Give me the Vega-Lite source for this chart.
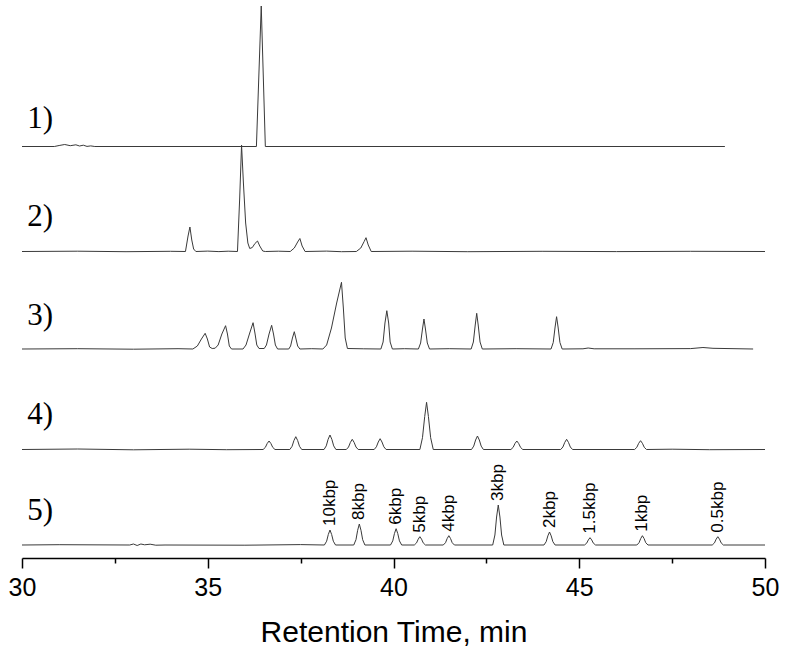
{
  "$schema": "https://vega.github.io/schema/vega-lite/v6.json",
  "width": 743,
  "height": 558,
  "autosize": "none",
  "padding": {"left": 22, "top": 0, "right": 25, "bottom": 102},
  "background": "white",
  "config": {"view": {"stroke": null}},
  "datasets": {
    "traces": [
      {"s":1,"t":30,"v":411.5},{"s":1,"t":30.87,"v":411.5},{"s":1,"t":31.0,"v":412.5},{"s":1,"t":31.15,"v":413.5},{"s":1,"t":31.3,"v":412.3},{"s":1,"t":31.45,"v":413.2},{"s":1,"t":31.55,"v":412},{"s":1,"t":31.65,"v":412.8},{"s":1,"t":31.75,"v":411.6},{"s":1,"t":31.85,"v":412.1},{"s":1,"t":31.96,"v":411.5},{"s":1,"t":36.31,"v":411.5},{"s":1,"t":36.44,"v":552},{"s":1,"t":36.55,"v":411.5},{"s":1,"t":48.92,"v":411.5},

      {"s":2,"t":30,"v":306.5},{"s":2,"t":31.5,"v":306.8},{"s":2,"t":32.8,"v":306.3},{"s":2,"t":34.0,"v":306.7},{"s":2,"t":34.40,"v":306.5},{"s":2,"t":34.47,"v":322},{"s":2,"t":34.52,"v":331},{"s":2,"t":34.57,"v":318},{"s":2,"t":34.62,"v":309},{"s":2,"t":34.68,"v":306.5},{"s":2,"t":35.0,"v":306.9},{"s":2,"t":35.3,"v":306.4},{"s":2,"t":35.55,"v":306.8},{"s":2,"t":35.80,"v":306.5},{"s":2,"t":35.86,"v":360},{"s":2,"t":35.91,"v":413},{"s":2,"t":35.96,"v":375},{"s":2,"t":36.02,"v":335},{"s":2,"t":36.08,"v":315},{"s":2,"t":36.13,"v":309.5},{"s":2,"t":36.2,"v":310.5},{"s":2,"t":36.27,"v":314.5},{"s":2,"t":36.34,"v":317},{"s":2,"t":36.4,"v":312},{"s":2,"t":36.48,"v":307},{"s":2,"t":36.55,"v":306.5},{"s":2,"t":36.9,"v":306.8},{"s":2,"t":37.22,"v":306.5},{"s":2,"t":37.33,"v":310},{"s":2,"t":37.42,"v":316},{"s":2,"t":37.48,"v":319.5},{"s":2,"t":37.54,"v":312},{"s":2,"t":37.62,"v":306.5},{"s":2,"t":38.2,"v":306.9},{"s":2,"t":38.6,"v":306.3},{"s":2,"t":39.0,"v":306.5},{"s":2,"t":39.12,"v":310},{"s":2,"t":39.21,"v":316.5},{"s":2,"t":39.26,"v":320.3},{"s":2,"t":39.32,"v":313},{"s":2,"t":39.4,"v":306.5},{"s":2,"t":40.5,"v":306.8},{"s":2,"t":42.0,"v":306.3},{"s":2,"t":44.0,"v":306.7},{"s":2,"t":46.0,"v":306.4},{"s":2,"t":48.0,"v":306.7},{"s":2,"t":50,"v":306.5},

      {"s":3,"t":30,"v":209},{"s":3,"t":31.5,"v":209.3},{"s":3,"t":33.0,"v":208.8},{"s":3,"t":34.2,"v":209.3},{"s":3,"t":34.6,"v":209},{"s":3,"t":34.72,"v":212},{"s":3,"t":34.83,"v":219},{"s":3,"t":34.93,"v":224.7},{"s":3,"t":34.99,"v":219},{"s":3,"t":35.05,"v":211},{"s":3,"t":35.12,"v":209.5},{"s":3,"t":35.2,"v":209.8},{"s":3,"t":35.28,"v":213},{"s":3,"t":35.38,"v":224},{"s":3,"t":35.48,"v":232.3},{"s":3,"t":35.53,"v":224},{"s":3,"t":35.58,"v":212},{"s":3,"t":35.64,"v":209},{"s":3,"t":35.95,"v":209},{"s":3,"t":36.03,"v":213},{"s":3,"t":36.13,"v":225},{"s":3,"t":36.22,"v":235.3},{"s":3,"t":36.27,"v":225},{"s":3,"t":36.32,"v":213},{"s":3,"t":36.38,"v":209.5},{"s":3,"t":36.52,"v":209.5},{"s":3,"t":36.58,"v":213},{"s":3,"t":36.65,"v":224},{"s":3,"t":36.72,"v":232.7},{"s":3,"t":36.77,"v":224},{"s":3,"t":36.82,"v":213},{"s":3,"t":36.88,"v":209},{"s":3,"t":37.18,"v":209},{"s":3,"t":37.23,"v":212},{"s":3,"t":37.28,"v":220},{"s":3,"t":37.33,"v":226.3},{"s":3,"t":37.37,"v":220},{"s":3,"t":37.42,"v":212},{"s":3,"t":37.48,"v":209},{"s":3,"t":37.8,"v":209.3},{"s":3,"t":38.1,"v":209},{"s":3,"t":38.2,"v":213},{"s":3,"t":38.33,"v":230},{"s":3,"t":38.47,"v":255},{"s":3,"t":38.6,"v":275.7},{"s":3,"t":38.65,"v":250},{"s":3,"t":38.7,"v":220},{"s":3,"t":38.76,"v":209.5},{"s":3,"t":39.2,"v":209.2},{"s":3,"t":39.66,"v":209},{"s":3,"t":39.72,"v":216},{"s":3,"t":39.77,"v":235},{"s":3,"t":39.82,"v":247.3},{"s":3,"t":39.87,"v":235},{"s":3,"t":39.91,"v":216},{"s":3,"t":39.97,"v":209},{"s":3,"t":40.3,"v":209.3},{"s":3,"t":40.67,"v":209},{"s":3,"t":40.73,"v":215},{"s":3,"t":40.78,"v":229},{"s":3,"t":40.82,"v":239},{"s":3,"t":40.86,"v":229},{"s":3,"t":40.91,"v":215},{"s":3,"t":40.97,"v":209},{"s":3,"t":41.5,"v":209.3},{"s":3,"t":42.09,"v":209},{"s":3,"t":42.15,"v":216},{"s":3,"t":42.2,"v":233},{"s":3,"t":42.24,"v":244.7},{"s":3,"t":42.28,"v":233},{"s":3,"t":42.33,"v":216},{"s":3,"t":42.39,"v":209},{"s":3,"t":43.3,"v":209.3},{"s":3,"t":44.24,"v":209},{"s":3,"t":44.3,"v":215.5},{"s":3,"t":44.35,"v":231},{"s":3,"t":44.39,"v":241.3},{"s":3,"t":44.43,"v":231},{"s":3,"t":44.48,"v":215.5},{"s":3,"t":44.54,"v":209},{"s":3,"t":45.1,"v":209.2},{"s":3,"t":45.24,"v":210},{"s":3,"t":45.4,"v":209.2},{"s":3,"t":46.5,"v":209.2},{"s":3,"t":48.0,"v":209.4},{"s":3,"t":48.33,"v":210.5},{"s":3,"t":48.6,"v":209.7},{"s":3,"t":49.68,"v":209},

      {"s":4,"t":30,"v":108.5},{"s":4,"t":31.5,"v":109},{"s":4,"t":33.0,"v":108.2},{"s":4,"t":34.5,"v":108.8},{"s":4,"t":35.5,"v":108.3},{"s":4,"t":36.49,"v":108.5},{"s":4,"t":36.55,"v":110.6},{"s":4,"t":36.60,"v":114.5},{"s":4,"t":36.65,"v":117},{"s":4,"t":36.70,"v":114.5},{"s":4,"t":36.75,"v":110.6},{"s":4,"t":36.81,"v":108.5},{"s":4,"t":37.21,"v":108.5},{"s":4,"t":37.27,"v":111.7},{"s":4,"t":37.32,"v":117.5},{"s":4,"t":37.37,"v":121.3},{"s":4,"t":37.42,"v":117.5},{"s":4,"t":37.47,"v":111.7},{"s":4,"t":37.53,"v":108.5},{"s":4,"t":38.13,"v":108.5},{"s":4,"t":38.19,"v":112.1},{"s":4,"t":38.24,"v":118.7},{"s":4,"t":38.29,"v":123},{"s":4,"t":38.34,"v":118.7},{"s":4,"t":38.39,"v":112.1},{"s":4,"t":38.45,"v":108.5},{"s":4,"t":38.73,"v":108.5},{"s":4,"t":38.79,"v":111},{"s":4,"t":38.84,"v":115.6},{"s":4,"t":38.89,"v":118.7},{"s":4,"t":38.94,"v":115.6},{"s":4,"t":38.99,"v":111},{"s":4,"t":39.05,"v":108.5},{"s":4,"t":39.48,"v":108.5},{"s":4,"t":39.54,"v":111.2},{"s":4,"t":39.59,"v":116},{"s":4,"t":39.64,"v":119.3},{"s":4,"t":39.69,"v":116},{"s":4,"t":39.74,"v":111.2},{"s":4,"t":39.80,"v":108.5},{"s":4,"t":40.71,"v":108.5},{"s":4,"t":40.78,"v":120.3},{"s":4,"t":40.84,"v":141.5},{"s":4,"t":40.89,"v":155.7},{"s":4,"t":40.94,"v":141.5},{"s":4,"t":41.0,"v":120.3},{"s":4,"t":41.07,"v":108.5},{"s":4,"t":42.10,"v":108.5},{"s":4,"t":42.16,"v":111.9},{"s":4,"t":42.21,"v":118},{"s":4,"t":42.26,"v":122},{"s":4,"t":42.31,"v":118},{"s":4,"t":42.36,"v":111.9},{"s":4,"t":42.42,"v":108.5},{"s":4,"t":43.16,"v":108.5},{"s":4,"t":43.22,"v":110.6},{"s":4,"t":43.27,"v":114.5},{"s":4,"t":43.32,"v":117},{"s":4,"t":43.37,"v":114.5},{"s":4,"t":43.42,"v":110.6},{"s":4,"t":43.48,"v":108.5},{"s":4,"t":44.50,"v":108.5},{"s":4,"t":44.56,"v":111},{"s":4,"t":44.61,"v":115.6},{"s":4,"t":44.66,"v":118.7},{"s":4,"t":44.71,"v":115.6},{"s":4,"t":44.76,"v":111},{"s":4,"t":44.82,"v":108.5},{"s":4,"t":46.49,"v":108.5},{"s":4,"t":46.55,"v":110.7},{"s":4,"t":46.60,"v":114.7},{"s":4,"t":46.65,"v":117.3},{"s":4,"t":46.70,"v":114.7},{"s":4,"t":46.75,"v":110.7},{"s":4,"t":46.81,"v":108.5},{"s":4,"t":47.5,"v":108.8},{"s":4,"t":48.5,"v":108.3},{"s":4,"t":50,"v":108.5},

      {"s":5,"t":30,"v":13},{"s":5,"t":31.0,"v":13.3},{"s":5,"t":32.9,"v":13},{"s":5,"t":33.0,"v":14},{"s":5,"t":33.1,"v":12.5},{"s":5,"t":33.2,"v":14},{"s":5,"t":33.3,"v":13.2},{"s":5,"t":33.45,"v":13.8},{"s":5,"t":33.6,"v":12.8},{"s":5,"t":33.85,"v":13},{"s":5,"t":36.0,"v":12.8},{"s":5,"t":37.5,"v":13.4},{"s":5,"t":38.14,"v":13},{"s":5,"t":38.20,"v":16.8},{"s":5,"t":38.245,"v":23.5},{"s":5,"t":38.29,"v":28},{"s":5,"t":38.335,"v":23.5},{"s":5,"t":38.38,"v":16.8},{"s":5,"t":38.44,"v":13},{"s":5,"t":38.93,"v":13},{"s":5,"t":38.99,"v":18.3},{"s":5,"t":39.035,"v":27.7},{"s":5,"t":39.08,"v":34},{"s":5,"t":39.125,"v":27.7},{"s":5,"t":39.17,"v":18.3},{"s":5,"t":39.23,"v":13},{"s":5,"t":39.92,"v":13},{"s":5,"t":39.98,"v":17.1},{"s":5,"t":40.025,"v":24.4},{"s":5,"t":40.07,"v":29.3},{"s":5,"t":40.115,"v":24.4},{"s":5,"t":40.16,"v":17.1},{"s":5,"t":40.22,"v":13},{"s":5,"t":40.56,"v":13},{"s":5,"t":40.62,"v":15.1},{"s":5,"t":40.665,"v":18.8},{"s":5,"t":40.71,"v":21.3},{"s":5,"t":40.755,"v":18.8},{"s":5,"t":40.8,"v":15.1},{"s":5,"t":40.86,"v":13},{"s":5,"t":41.34,"v":13},{"s":5,"t":41.4,"v":15.3},{"s":5,"t":41.445,"v":19.5},{"s":5,"t":41.49,"v":22.3},{"s":5,"t":41.535,"v":19.5},{"s":5,"t":41.58,"v":15.3},{"s":5,"t":41.64,"v":13},{"s":5,"t":42.67,"v":13},{"s":5,"t":42.73,"v":23},{"s":5,"t":42.775,"v":41},{"s":5,"t":42.82,"v":53},{"s":5,"t":42.865,"v":41},{"s":5,"t":42.91,"v":23},{"s":5,"t":42.97,"v":13},{"s":5,"t":44.05,"v":13},{"s":5,"t":44.11,"v":16.3},{"s":5,"t":44.155,"v":22.1},{"s":5,"t":44.2,"v":26},{"s":5,"t":44.245,"v":22.1},{"s":5,"t":44.29,"v":16.3},{"s":5,"t":44.35,"v":13},{"s":5,"t":45.14,"v":13},{"s":5,"t":45.2,"v":14.8},{"s":5,"t":45.245,"v":18.1},{"s":5,"t":45.29,"v":20.3},{"s":5,"t":45.335,"v":18.1},{"s":5,"t":45.38,"v":14.8},{"s":5,"t":45.44,"v":13},{"s":5,"t":46.55,"v":13},{"s":5,"t":46.61,"v":15.3},{"s":5,"t":46.655,"v":19.5},{"s":5,"t":46.7,"v":22.3},{"s":5,"t":46.745,"v":19.5},{"s":5,"t":46.79,"v":15.3},{"s":5,"t":46.85,"v":13},{"s":5,"t":48.58,"v":13},{"s":5,"t":48.64,"v":15.1},{"s":5,"t":48.685,"v":18.8},{"s":5,"t":48.73,"v":21.3},{"s":5,"t":48.775,"v":18.8},{"s":5,"t":48.82,"v":15.1},{"s":5,"t":48.88,"v":13},{"s":5,"t":50,"v":13}
    ],
    "nums": [
      {"t":30.14,"v":430,"txt":"1)"},
      {"t":30.14,"v":332,"txt":"2)"},
      {"t":30.14,"v":233,"txt":"3)"},
      {"t":30.14,"v":134,"txt":"4)"},
      {"t":30.14,"v":38,"txt":"5)"}
    ],
    "kbp": [
      {"t":38.29,"v":28,"txt":"10kbp"},
      {"t":39.08,"v":34,"txt":"8kbp"},
      {"t":40.07,"v":29.3,"txt":"6kbp"},
      {"t":40.71,"v":21.3,"txt":"5kbp"},
      {"t":41.49,"v":22.3,"txt":"4kbp"},
      {"t":42.82,"v":53,"txt":"3kbp"},
      {"t":44.2,"v":26,"txt":"2kbp"},
      {"t":45.29,"v":20.3,"txt":"1.5kbp"},
      {"t":46.7,"v":22.3,"txt":"1kbp"},
      {"t":48.73,"v":21.3,"txt":"0.5kbp"}
    ]
  },
  "encoding": {
    "x": {
      "field": "t", "type": "quantitative",
      "scale": {"domain": [30, 50], "nice": false, "zero": false},
      "axis": {
        "values": [30, 32.5, 35, 37.5, 40, 42.5, 45, 47.5, 50],
        "labelExpr": "datum.value % 5 === 0 ? datum.label : ''",
        "tickSize": {"condition": {"test": "datum.value % 5 === 0", "value": 10}, "value": 5},
        "tickColor": "black", "tickWidth": 1.5,
        "domainColor": "black", "domainWidth": 1.5,
        "grid": false,
        "labelFont": "Liberation Sans", "labelFontSize": 25, "labelColor": "black",
        "labelPadding": 7, "labelFlush": false, "labelOverlap": false,
        "title": "Retention Time, min",
        "titleFont": "Liberation Sans", "titleFontSize": 30, "titleFontWeight": "normal",
        "titleColor": "black", "titlePadding": 17
      }
    },
    "y": {
      "field": "v", "type": "quantitative",
      "scale": {"domain": [0, 558], "nice": false, "zero": false},
      "axis": null
    }
  },
  "layer": [
    {
      "data": {"name": "traces"},
      "mark": {"type": "line", "color": "#3a3a3a", "strokeWidth": 1, "clip": false},
      "encoding": {"detail": {"field": "s"}}
    },
    {
      "data": {"name": "nums"},
      "mark": {"type": "text", "font": "Liberation Serif", "fontSize": 31, "align": "left", "baseline": "alphabetic", "color": "black"},
      "encoding": {"text": {"field": "txt"}}
    },
    {
      "data": {"name": "kbp"},
      "mark": {"type": "text", "font": "Liberation Sans", "fontSize": 17, "angle": 270, "align": "left", "baseline": "middle", "dx": 4, "color": "black"},
      "encoding": {"text": {"field": "txt"}}
    }
  ]
}
